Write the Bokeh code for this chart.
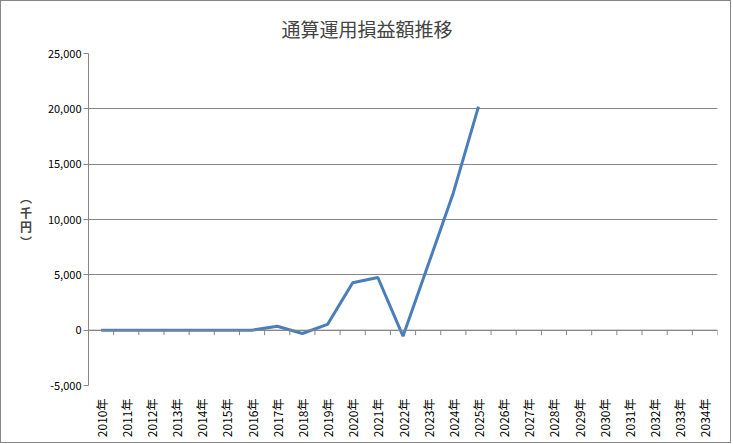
import math
from bokeh.plotting import figure
from bokeh.models import Range1d, FixedTicker, NumeralTickFormatter, Span
from bokeh.embed import file_html
from bokeh.resources import INLINE

years = [f"{y}年" for y in range(2010, 2035)]
values = [0, 0, 0, 0, 0, 0, 0, 350, -300, 520, 4280, 4760, -540, 5900, 12400, 20200]
y_ticks = [-5000, 0, 5000, 10000, 15000, 20000, 25000]
unit_label = "︵\n千\n円\n︶"

GRAY = "#868686"
FONT = "Noto Sans CJK JP"
FRAME_W, FRAME_H = 629, 332

xs = [i + 0.5 for i in range(len(values))]
centers = [i + 0.5 for i in range(len(years))]
bounds = list(range(len(years) + 1))

p = figure(frame_width=FRAME_W, frame_height=FRAME_H, output_backend="svg",
           toolbar_location=None, x_range=Range1d(0, len(years)),
           y_range=Range1d(y_ticks[0], y_ticks[-1]),
           min_border_left=87, min_border_right=13, min_border_top=51,
           min_border_bottom=57)
p.styles = {"border": f"1px solid {GRAY}"}
p.outline_line_color = None
p.background_fill_color = "white"
p.border_fill_color = "white"

p.title.text = "通算運用損益額推移"
p.title.text_font = FONT
p.title.text_font_size = "19px"
p.title.text_font_style = "normal"
p.title.align = "left"
p.title.offset = 193
p.title.standoff = 23

# zero line with ticks between categories
p.add_layout(Span(location=0, dimension="width", line_color=GRAY, line_width=1))
tick_len = 5 * (y_ticks[-1] - y_ticks[0]) / FRAME_H
p.segment(x0=bounds, y0=[0] * len(bounds), x1=bounds, y1=[-tick_len] * len(bounds),
          line_color=GRAY, line_width=1)

p.line(xs, values, line_color="#4a7ebb", line_width=3)

# y axis
ya = p.yaxis[0]
ya.ticker = FixedTicker(ticks=y_ticks)
ya.formatter = NumeralTickFormatter(format="0,0")
ya.axis_line_color = GRAY
ya.major_tick_line_color = GRAY
ya.major_tick_out = 5
ya.major_tick_in = 0
ya.minor_tick_line_color = None
ya.major_label_text_font = FONT
ya.major_label_text_font_size = "11px"
ya.major_label_text_color = "black"
ya.major_label_standoff = 2
ya.axis_label = unit_label
ya.axis_label_orientation = "horizontal"
ya.axis_label_text_font = FONT
ya.axis_label_text_font_size = "12px"
ya.axis_label_text_font_style = "bold"
ya.axis_label_text_line_height = 0.85
ya.axis_label_standoff = 13

p.ygrid.ticker = FixedTicker(ticks=y_ticks)
p.ygrid.grid_line_color = GRAY
p.xgrid.grid_line_color = None

# bottom category labels
xa = p.xaxis[0]
xa.ticker = FixedTicker(ticks=centers)
xa.major_label_overrides = {c: y for c, y in zip(centers, years)}
xa.major_label_orientation = math.pi / 2
xa.axis_line_color = None
xa.major_tick_line_color = None
xa.minor_tick_line_color = None
xa.major_label_text_font = FONT
xa.major_label_text_font_size = "12px"
xa.major_label_text_color = "black"
xa.major_label_standoff = 7

open("out.html", "w").write(file_html(p, INLINE))
